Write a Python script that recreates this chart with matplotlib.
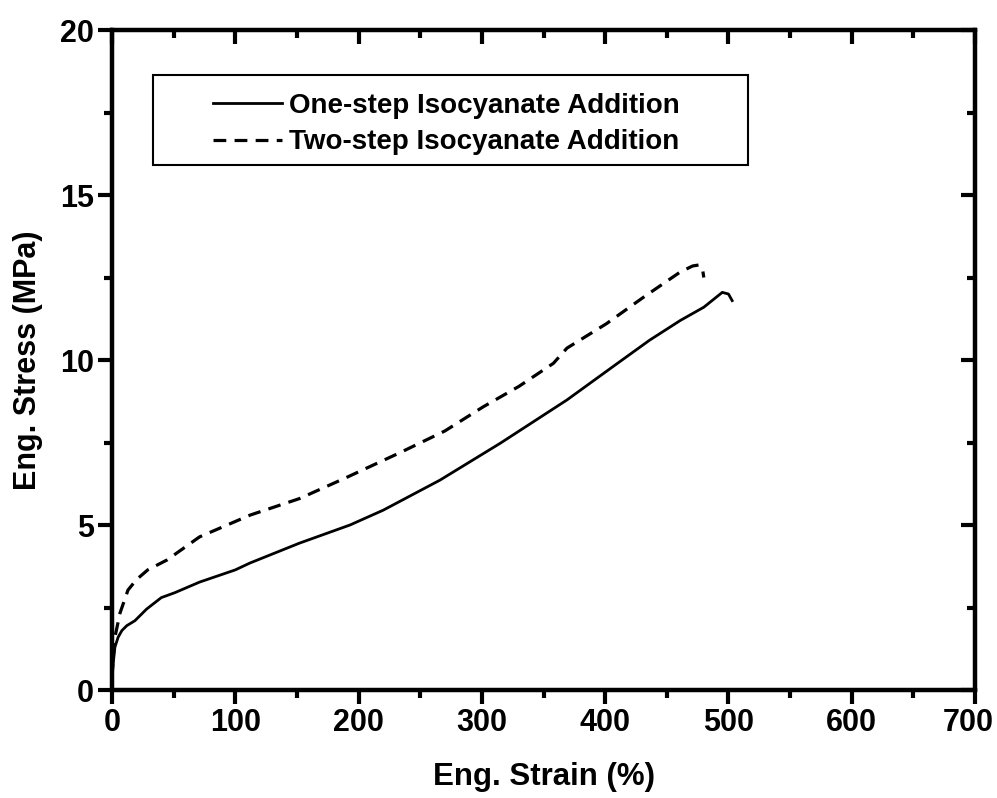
import matplotlib
matplotlib.use('Agg')
import matplotlib.pyplot as plt
from matplotlib.ticker import MultipleLocator, FuncFormatter
from matplotlib.patches import Rectangle

plt.rcParams['font.family'] = ['Liberation Sans', 'DejaVu Sans']
plt.rcParams['font.weight'] = 'bold'

# One-step isocyanate addition (solid)
strain_one = [0, 1, 2.4, 5, 8, 12, 18.6, 28, 40, 51, 71, 100, 112, 152, 193, 220,
              266, 315, 369, 410, 436, 461, 480, 495, 500, 503]
stress_one = [0.3, 0.8, 1.3, 1.6, 1.8, 1.95, 2.1, 2.45, 2.8, 2.95, 3.27, 3.64, 3.85,
              4.45, 5.0, 5.45, 6.36, 7.48, 8.79, 9.9, 10.6, 11.2, 11.6, 12.05, 12.0, 11.8]

# Two-step isocyanate addition (dashed)
strain_two = [0, 1, 2.4, 6.5, 13, 20, 29, 44.6, 71, 112, 152, 189, 234, 270, 301,
              330, 358, 369, 401, 431, 461, 471, 476, 479, 480]
stress_two = [0.4, 1.0, 1.6, 2.33, 3.03, 3.35, 3.64, 3.94, 4.64, 5.3, 5.8, 6.42, 7.2,
              7.85, 8.58, 9.2, 9.9, 10.36, 11.1, 11.9, 12.67, 12.85, 12.88, 12.75, 12.5]

fig = plt.figure(figsize=(9.97, 7.98), dpi=100)
ax = fig.add_axes([0.1123, 0.1353, 0.8657, 0.8271])

ax.plot(strain_one, stress_one, color='black', linewidth=2,
        label='One-step Isocyanate Addition')
ax.plot(strain_two, stress_two, color='black', linewidth=2.3, dashes=(4, 2.6),
        label='Two-step Isocyanate Addition')

ax.set_xlim(0, 700)
ax.set_ylim(0, 20)

def set_locators(a):
    a.xaxis.set_major_locator(MultipleLocator(100))
    a.xaxis.set_minor_locator(MultipleLocator(50))
    a.yaxis.set_major_locator(MultipleLocator(5))
    a.yaxis.set_minor_locator(MultipleLocator(2.5))

set_locators(ax)
for s in ax.spines.values():
    s.set_linewidth(3)

ax.tick_params(which='both', direction='out', width=3, labelsize=22)
ax.tick_params(which='major', length=10)
ax.tick_params(which='minor', length=6)
ax.tick_params(axis='x', which='major', pad=3)
ax.tick_params(axis='y', which='major', pad=3)

# last x label sits against the figure edge, so it is placed by hand
ax.xaxis.set_major_formatter(FuncFormatter(lambda v, p: '' if v >= 700 else '%d' % v))
ax.annotate('700', xy=(700, 0), xycoords='data', xytext=(-5, -13),
            textcoords='offset points', ha='center', va='top', fontsize=22,
            fontweight='bold', annotation_clip=False)

# mirrored inward ticks on top and right
ax2 = ax.twiny()
ax2.set_xlim(ax.get_xlim())
ax3 = ax.twinx()
ax3.set_ylim(ax.get_ylim())
for a in (ax2, ax3):
    set_locators(a)
    a.tick_params(which='both', direction='in', width=3,
                  labeltop=False, labelright=False)
    a.tick_params(which='major', length=10)
    a.tick_params(which='minor', length=6)
    for s in a.spines.values():
        s.set_linewidth(3)

ax.set_xlabel('Eng. Strain (%)', fontsize=22.5, fontweight='bold', labelpad=17)
ax.set_ylabel('Eng. Stress (MPa)', fontsize=22, fontweight='bold', labelpad=12)

# legend without its own frame, frame drawn as a box
leg = ax.legend(loc='upper left', bbox_to_anchor=(0.117, 0.905),
                frameon=False, handlelength=2.5, handletextpad=0.25,
                borderpad=0, labelspacing=0.38, borderaxespad=0,
                prop={'weight': 'bold', 'size': 20})
ax.add_patch(Rectangle((0.0475, 0.795), 0.689, 0.1365, transform=ax.transAxes,
                       fill=False, edgecolor='black', linewidth=1.5, zorder=5))

fig.savefig('out.png', dpi=100, facecolor='white')
